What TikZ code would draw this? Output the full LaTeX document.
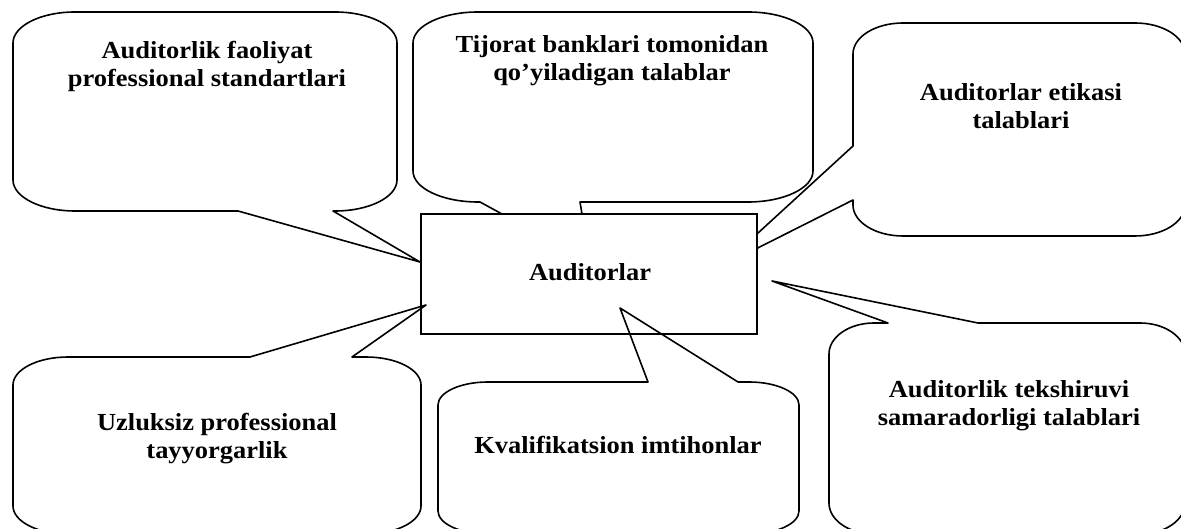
\documentclass[tikz,border=0pt]{standalone}
\usepackage{fontspec}
\setmainfont{Liberation Serif}[FakeStretch=1.08]
\usetikzlibrary{positioning}

% rounded speech bubble: (left,bottom)(right,top){top}{right}{bottom}{left} side inserts
\def\speechbox(#1,#2)(#3,#4)#5#6#7#8{%
  \draw[bubble] (#1+\rx,#4) #5 -- (#3-\rx,#4)
    arc[start angle=90,end angle=0,x radius=\rx,y radius=\ry] #6 -- (#3,#2+\ry)
    arc[start angle=0,end angle=-90,x radius=\rx,y radius=\ry] #7 -- (#1+\rx,#2)
    arc[start angle=270,end angle=180,x radius=\rx,y radius=\ry] #8 -- (#1,#4-\ry)
    arc[start angle=180,end angle=90,x radius=\rx,y radius=\ry] -- cycle;}

\tikzset{
  bubble/.style={line width=1.6pt, line join=round},
  lbl/.style={align=center, font=\fontsize{24.5}{28}\selectfont\bfseries},
  centrebox/.style={draw, line width=1.6pt, fill=white, minimum width=336pt,
    minimum height=120pt, inner sep=0pt}
}

\begin{document}
\begin{tikzpicture}[x=1pt,y=1pt]
    \useasboundingbox (0,0) rectangle (1181,529);
    \clip (0,0) rectangle (1181,529);

    % bubbles whose tails go under the box
    \def\rx{62}\def\ry{31}
    \speechbox(13,318)(397,517){}{}{-- (333,318) -- (420,267) -- (238,318)}{}
    \def\rx{65}\def\ry{31}
    \speechbox(413,327)(813,517){}{}{-- (580,327) -- (590,267) -- (480,327)}{}
    \def\rx{50}\def\ry{31}
    \speechbox(853,293)(1185,506){}{}{}{-- (853,329) -- (722,263) -- (853,383)}
    \def\rx{45}\def\ry{31}
    \speechbox(829,-5)(1185,206){-- (888,206) -- (772,248) -- (978,206)}{}{}{}

    % centre box
    \node[centrebox] (auditor) at (589,255) {};
    \node[lbl] (auditortxt) at (590,257) {Auditorlar};

    % bubbles whose tails reach into the box
    \def\rx{55}\def\ry{28}
    \speechbox(13,-5)(421,172){-- (250,172) -- (426,224) -- (352,172)}{}{}{}
    \def\rx{50}\def\ry{23}
    \speechbox(438,-5)(799,147){-- (648,147) -- (620,221) -- (738,147)}{}{}{}

    % Texts
    \node[lbl] (standart) at (207,463) {Auditorlik faoliyat\\professional standartlari};
    \node[lbl] (bank) at (612,468) {Tijorat banklari tomonidan\\qo’yiladigan talablar};
    \node[lbl] (etika) at (1021,423) {Auditorlar etikasi\\talablari};
    \node[lbl] (uzluksiz) at (217,90) {Uzluksiz professional\\tayyorgarlik};
    \node[lbl] (imtihon) at (618,84) {Kvalifikatsion imtihonlar};
    \node[lbl] (samara) at (1009,123) {Auditorlik tekshiruvi\\samaradorligi talablari};
\end{tikzpicture}
\end{document}
